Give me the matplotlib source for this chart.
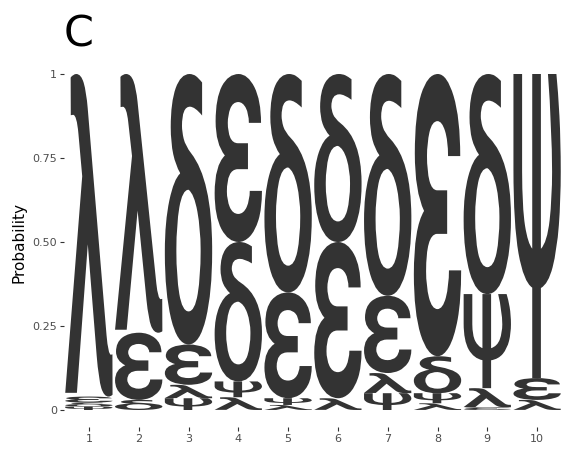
import numpy as np
import matplotlib
matplotlib.use('Agg')
import matplotlib.pyplot as plt
from matplotlib.textpath import TextPath
from matplotlib.font_manager import FontProperties, findfont
from matplotlib.patches import PathPatch
from matplotlib.transforms import Affine2D

# probabilities per position
positions = [1, 2, 3, 4, 5, 6, 7, 8, 9, 10]
letters = ['λ', 'ε', 'δ', 'ψ']
lam = [0.960, 0.770, 0.040, 0.038, 0.015, 0.035, 0.060, 0.020, 0.057, 0.030]
eps = [0.018, 0.200, 0.120, 0.500, 0.315, 0.465, 0.230, 0.840, 0.008, 0.065]
dlt = [0.012, 0.030, 0.805, 0.415, 0.650, 0.500, 0.660, 0.110, 0.655, 0.000]
psi = [0.010, 0.000, 0.035, 0.047, 0.020, 0.000, 0.050, 0.030, 0.280, 0.905]
y_ticks = [0, 0.25, 0.5, 0.75, 1]
y_labels = ['0', '0.25', '0.50', '0.75', '1']

probs = np.array([lam, eps, dlt, psi])
col_width = 0.95
letter_color = '#333333'
font = FontProperties(family='Roboto', weight='medium')
print(findfont(font))

fig = plt.figure(figsize=(5.71, 4.57), dpi=100)
ax = fig.add_axes([64 / 571, 1 - 426.8 / 457, 498 / 571, 369.6 / 457])


def draw_letter(ax, ch, x, y0, h):
    # stretch the glyph to fill the box [x-w/2, x+w/2] x [y0, y0+h]
    tp = TextPath((0, 0), ch, size=1, prop=font)
    ext = tp.get_extents()
    tr = (Affine2D()
          .translate(-ext.x0, -ext.y0)
          .scale(col_width / ext.width, h / ext.height)
          .translate(x - col_width / 2, y0))
    path = tr.transform_path(tp)
    ax.add_patch(PathPatch(path, facecolor=letter_color, edgecolor='none', lw=0))


for i, pos in enumerate(positions):
    col = probs[:, i]
    order = np.argsort(col, kind='stable')
    base = 0.0
    for k in order:
        h = col[k]
        if h <= 0:
            continue
        draw_letter(ax, letters[k], pos, base, h)
        base += h

ax.set_xlim(0.5, 10.5)
ax.set_ylim(-0.05, 1.05)
ax.set_xticks(positions)
ax.set_xticklabels([str(p) for p in positions])
ax.set_yticks(y_ticks)
ax.set_yticklabels(y_labels)
for s in ax.spines.values():
    s.set_visible(False)
ax.tick_params(axis='both', length=3, width=0.8, color='#333333',
               labelcolor='#4D4D4D', labelsize=8, pad=2)
ax.set_ylabel('Probability', fontsize=11, color='black', labelpad=4)
ax.set_title('C', loc='left', fontsize=31, pad=8, x=0.0)

fig.savefig('out.png', dpi=100)
